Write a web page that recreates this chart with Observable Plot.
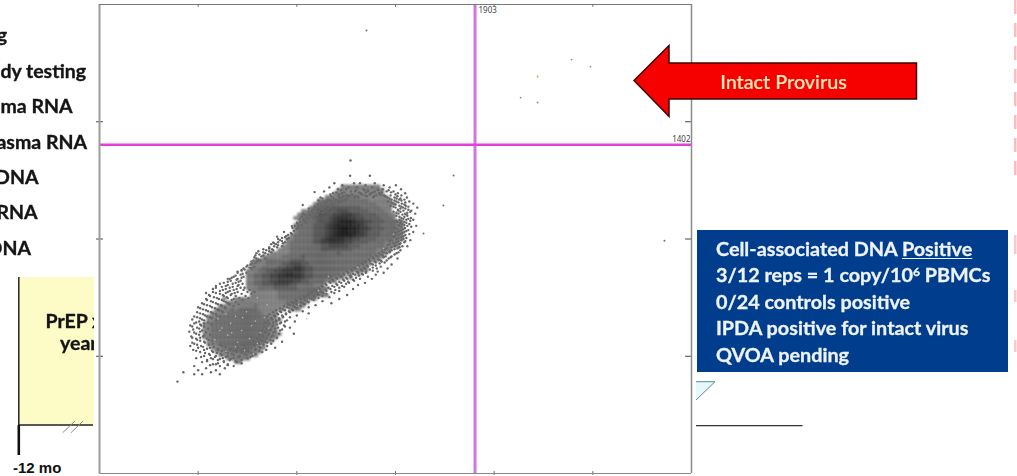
<!DOCTYPE html>
<html>
<head>
<meta charset="utf-8">
<script src="https://cdn.jsdelivr.net/npm/d3@7"></script>
<script src="https://cdn.jsdelivr.net/npm/@observablehq/plot@0.6"></script>
<style>
html,body{margin:0;padding:0;background:#fff;overflow:hidden}
#stage{position:relative;width:1017px;height:476px;overflow:hidden;background:#fff;font-family:Lato,"Open Sans",sans-serif}
#stage svg{display:block}
.abs{position:absolute}
.left{font-weight:700;font-size:19.5px;color:#141414;text-align:right;white-space:nowrap;left:-100px;line-height:22px;-webkit-text-stroke:.35px #141414;filter:blur(.35px)}
#yellow{left:19px;top:277px;width:75px;height:148px;background:#fdfbc6;overflow:hidden}
.prep{position:absolute;font-weight:700;font-size:19.5px;color:#141414;white-space:nowrap;line-height:22px;-webkit-text-stroke:.35px #141414;filter:blur(.35px)}
#blue{left:697px;top:229.5px;width:311px;height:142px;background:#003d8c;color:#eef3f8;font-weight:700;font-size:19.8px;box-sizing:border-box;padding:5px 0 0 19px;line-height:26.5px;white-space:nowrap;-webkit-text-stroke:.3px #eef3f8;filter:blur(.35px)}
#blue sup{font-size:12px;line-height:0;vertical-align:6px}
#blue u{text-underline-offset:2px}
#mo{left:13px;top:459px;font:700 15px "Liberation Sans",Arial,sans-serif;color:#111;white-space:nowrap}
#arrowText{left:633.5px;width:300px;top:69px;text-align:center;font-size:19.8px;font-weight:500;color:#ffe9b8;line-height:24px;white-space:nowrap;-webkit-text-stroke:.2px #ffe9b8;filter:blur(.35px)}
</style>
</head>
<body>
<div id="stage"></div>
<script>
// ---- Chart data (fluorescence amplitudes) ----
const xDomain = [0, 3000];
const yDomain = [0, 2000];
const xTicks = [500, 1000, 1500, 2000, 2500];
const yTicks = [500, 1000, 1500];
const xThreshold = 1903;
const yThreshold = 1402;

// Isolated droplets, upper-right (intact) quadrant
const intactX = [2220, 2134, 2220, 2392, 2488];
const intactY = [1693, 1603, 1582, 1765, 1735];
const intactFill = ["#c29a55", "#8f8a70", "#a08a60", "#9a8a60", "#a09070"];
// Isolated droplets, elsewhere
const strayX = [1353, 1794, 1743, 1642, 2863];
const strayY = [1889, 1271, 1143, 1023, 993];

// Droplet density: one string per row, top to bottom.
// '.' nothing solid, 2-9 increasingly dense.
const cloudLeft = 385;
const cloudTop = 1335;
const cloudColStep = 20;
const cloudRowStep = 15;
const cloudRows = [
"..........................................................",
"..........................................................",
"..........................................................",
"..........................................................",
"..........................................................",
"..........................................................",
"..........................................................",
"..........................................................",
"..........................................2222222222......",
".........................................222222222222.....",
"........................................2222222222222.....",
"......................................2223333332222222....",
"....................................2233333333333222222...",
"...................................233333333333333322222..",
"..................................233344444444433333222...",
"................................22334444455544444333322...",
"...............................2333344445566655444433322..",
"..............................22333444456777665544443332..",
"...............................233334445678887665544433322",
"..............................2333344456788887765444333322",
"..............................2333344456789988766544433322",
"..............................2333344456789988765444333322",
".............................23333344456788887665444333322",
"............................223333344567777665544443333222",
"............................23333334455666655444433332222.",
"...........................223333333344555554443333332222.",
"..........................22233333333444444443333332222...",
"........................222223333333333334333333333222....",
"......................2222233333433333333333333333222.....",
"....................22233333344443333333333333333222......",
"...................2222333344555443333333333333322........",
"...................222333344556654433333333333222.........",
"..................2223344556666654433333333322222.........",
"..................22334455667766544333333322212...........",
"..................2233445566666654433333222.2.............",
"..................22334455666655443333222.................",
"..................22334445555443333222....................",
"..................222333344444433333222...................",
"...................2222222333333333332...................",
"...................22222223333333333222...................",
"............2..222222222223333333322......................",
".............222222222222222333222.......................",
"...........2222222223222222222222.........................",
"..........222232333332222222.222..........................",
".........22223333333332222................................",
"........222333333333333222................................",
"........2233333333333333222...............................",
".......2233333333333333322................................",
".......2233333333333333322................................",
".......2233333333333333322................................",
".......22333333333333333222...............................",
".......2233333333333333222................................",
"........22333333333333322.................................",
"........222333333333322...................................",
".........22233333332222...................................",
"..........222233333222....................................",
"...........2222222222.....................................",
".............222222.......................................",
"...............22........................................."
];

// Loose droplets around the cloud: row amplitude, then column amplitudes in that row
const speckY = [1335,1270,1238,1229,1220,1212,1203,1195,1186,1177,1168,1160,1151,1142,1134,1125,1116,1108,1099,1090,1082,1073,1064,1056,1047,1038,1030,1021,1012,1004,995,986,978,969,960,952,943,934,926,917,908,900,891,882,874,865,856,848,839,830,822,813,804,796,787,778,770,761,752,744,735,726,718,709,700,692,683,674,666,657,648,640,631,622,614,605,596,588,579,570,562,553,544,536,527,518,510,501,492,484,475,466,458,449,440,432,423,392];
const speckX = [
[1272],[1270,1370],
[1190,1290,1320,1395],[1231,1348,1440,1502],[1165,1262,1305,1382,1470],[1208,1250,1338,1412,1435,1528],
[1138,1275,1295,1360,1395,1455,1490],[1183,1228,1325,1375,1418,1512,1549],[1250,1262,1345,1402,1442,1475,1530],
[1120,1215,1290,1310,1388,1460,1495,1558],[1160,1198,1242,1480,1518,1545],[1095,1135,1225,1462,1505,1570],
[1178,1210,1490,1532,1590],[1070,1125,1160,1475,1520,1552],[1105,1148,1500,1538,1610],[1042,1085,1130,1512,1565],
[1060,1112,1490,1525,1575],[985,1030,1092,1515,1548,1600],[1012,1070,1505,1560],[950,1048,1085,1530,1578],
[1000,1032,1520,1555,1590],[925,975,1018,1510,1545],[960,1005,1535,1570],[905,945,990,1520,1560,1605],
[935,978,1500,1548],[890,925,965,1530,1565],[860,912,950,1510,1545,1590],[880,935,975,1525,1570],
[845,905,945,1498,1540],[872,925,960,1515,1555],[825,890,915,1480,1530,1575],[850,905,940,1505,1545],
[800,870,895,1470,1520],[835,885,925,1495,1535,1560],[780,815,860,1455,1510],[755,845,880,1480,1525],
[790,830,870,1440,1470,1515],[735,810,855,1425,1495],[770,820,1410,1450,1480],[700,755,795,840,1390,1465,1510],
[725,780,815,1370,1425,1455],[690,745,790,1350,1400,1445],[670,715,765,1335,1385,1480],[640,705,745,785,1315,1360,1425],
[660,730,770,1295,1345,1405,1460],[615,680,720,1280,1330,1385],[640,700,745,1260,1310,1350,1440],[600,665,715,1240,1295,1335,1400],
[625,680,730,1225,1275,1360],[580,650,700,1205,1255,1320,1380],[610,665,715,1185,1240,1290],[560,630,690,1170,1225,1265,1345],
[595,650,705,1150,1205,1310],[540,620,675,1130,1190,1240],[575,640,695,1115,1170,1285],[610,660,1095,1150,1215],
[520,590,640,685,1075,1135,1190],[555,625,665,1060,1110,1255],[500,580,645,1040,1090,1165],[540,605,680,1020,1075,1215],
[480,565,630,1000,1055,1130],[520,590,650,985,1030,1175],[460,545,615,965,1015,1095],[500,570,635,950,990,1060],
[440,525,600,930,975],[475,550,620,915,960,1030],[510,575,900,945,1060],[455,535,595,885,925,1000],
[420,495,560,930,965],[470,520,875,910],[440,505,895,940,990],[480,530,860,915],
[415,460,515,880,935],[495,850,905,965],[435,475,870,925],[455,510,840,890],
[400,490,860,910,985],[445,530,825,880],[470,510,850,900],[430,495,555,815,865],
[450,530,790,840,925],[410,480,575,760,810,870],[460,515,620,735,785,850],[440,500,560,700,770,815,890],
[475,530,600,660,725,790,845],[510,575,640,695,755,825],[555,615,670,735,790],[530,590,650,710,775],
[490,565,625,680,750],[545,600,660,720],[415,520,630,695],[575,650,590],
[480,610,680],[540,635],[500,590],[425,565],[480,520,610],[395]
];
// Second pass over the ragged edge of the cloud
const edgeY = [1208,1199,1190,1182,1173,1164,1156,1147,1138,1130,1121,1112,1104,1095,1086,1078,1069,1060,1052,1043,1034,1026,1017,1008,1000,991,982,974,965,956,948,939,930,922,913,904,896,887,878,870,861,852,844,835,826,818,809,800,792,783,774,766,757,748,740,731,722,714,705,696,688,679,670,662,653,644,636,627,618,610,601,592,584,575,566,558,549,540,532,523,514,505,497,488,479,470,462];
const edgeX = [
[1225,1300,1342,1360,1410,1465],[1200,1240,1315,1350,1385,1430,1478],[1170,1212,1280,1330,1370,1425,1500],[1175,1235,1265,1300,1355,1390,1448,1510],
[1130,1185,1225,1255,1470,1505,1525],[1110,1170,1210,1235,1495,1530],[1150,1195,1215,1480,1515,1550],[1105,1145,1185,1500,1545],
[1090,1130,1170,1490,1530,1565],[1060,1120,1160,1525,1550],[1075,1100,1145,1515,1540,1580],[1030,1080,1130,1505,1560],
[1040,1065,1105,1535,1555],[990,1025,1075,1520,1545],[1015,1060,1095,1540,1565],[985,1040,1505,1530,1575],
[945,1000,1045,1525,1555],[980,1025,1515,1545],[920,965,1005,1530,1580],[900,955,1000,1510,1540],
[940,985,1520,1555],[895,930,970,1500,1535],[865,920,955,1515,1550],[890,940,1490,1530],
[855,905,950,1505,1540],[870,925,1470,1515,1550],[820,885,930,1490,1525],[850,905,1460,1500],
[790,860,900,1480,1520],[830,875,1445,1495],[770,805,860,1430,1470],[750,795,840,1415,1455,1505],
[720,790,830,1400,1435],[745,785,1385,1440,1475],[705,765,805,1365,1415],[730,770,1345,1395,1430],
[680,735,775,1330,1375,1420],[700,750,1310,1355,1400],[650,720,760,1290,1340,1385],[685,735,1275,1325,1370],
[625,700,1255,1305,1350,1410],[660,725,1235,1285,1330],[635,690,1220,1270,1315],[600,670,720,1200,1250,1300],
[630,695,1180,1235,1285],[585,650,705,1165,1215,1260],[610,675,725,1145,1200,1250],[560,640,700,1125,1180,1230],
[590,660,715,735,1110,1160,1215],[545,625,680,730,760,1090,1145,1195],[575,650,700,750,785,1070,1125,1175],[530,610,670,720,770,1055,1105,1150],
[560,630,690,740,1035,1085,1130],[515,595,650,710,755,1015,1065,1110],[545,620,670,725,995,1040,1085],[500,575,640,690,975,1020,1060],
[530,600,660,705,955,1000,1040],[485,560,620,680,935,980,1020],[510,585,640,915,960,1000],[470,540,605,895,940,980],
[495,565,625,880,920,965],[525,590,860,905,945],[480,545,610,850,890,930],[510,570,870,910],
[450,530,590,855,895,950],[490,550,840,880,920],[435,510,565,860,900],[470,530,835,875,940],
[505,550,850,890],[445,520,825,865,915],[480,540,840,880],[425,505,560,810,855],
[465,525,830,870],[490,545,800,845],[510,570,780,825,880],[470,535,755,805,850],
[495,555,610,730,780,830],[525,580,640,700,755,810],[545,600,665,735,790],[490,570,620,690,750,810],
[535,595,650,720,770],[560,620,680,745],[515,585,640,705,765],[575,610,665],
[545,630,690],[600,720],[560,650]
];
// Left-hand limit of the scatter (amplitude pairs)
const limitY = [1300,1164,1121,1079,1036,993,951,908,866,823,780,738,695,653,611,568,400];
const limitX = [1050,1110,1044,998,968,892,806,765,704,639,547,512,486,461,451,461,380];
// A few droplets that lie outside that limit
const outlierX = [1030,975,900,860,800,720,660,590,540,880,935,1090];
const outlierY = [1145,1055,1010,960,905,868,830,800,770,985,1030,1200];
// Pale gaps among the droplets
const gapX = [600,640,690,745,790,835,620,665,720,770,815,855,585,650,700,760,800,640,690,735,780,820,610,670,725,900,960,1010,1060,1110,1160,1250,1310,1380,1440,1490,800,850,1050,1000];
const gapY = [660,680,670,690,650,665,620,640,610,630,600,620,570,590,560,575,555,520,540,525,510,545,610,600,665,660,700,720,740,780,840,850,880,900,960,1020,750,720,660,690];

// Slide text around the chart
const leftLabels = ["g", "dy testing", "ma RNA", "asma RNA", "DNA", "RNA", "DNA"];
const prepLabels = ["PrEP x", "year"];
const timeLabel = "-12 mo";
const arrowLabel = "Intact Provirus";
const boxHtml = [
  'Cell-associated DNA <u>Positive</u>',
  '3/12 reps = 1 copy/10<sup>6</sup> PBMCs',
  '0/24 controls positive',
  'IPDA positive for intact virus',
  'QVOA pending'
];

// ---- Build tables ----
const cells = [];
cloudRows.forEach((row, r) => {
  [...row].forEach((ch, c) => {
    if (ch !== ".") cells.push({
      x: cloudLeft + c * cloudColStep,
      y: cloudTop - r * cloudRowStep,
      level: +ch
    });
  });
});
const limitAt = d3.scaleLinear().domain(limitY).range(limitX);
const specks = speckY.flatMap((y, i) => speckX[i].map(x => ({x, y})))
  .concat(edgeY.flatMap((y, i) => edgeX[i].map(x => ({x, y}))))
  .filter(d => d.y > 1240 || d.x >= limitAt(d.y))
  .concat(outlierX.map((x,i)=>({x,y:outlierY[i]})));
const gaps = gapX.map((x,i)=>({x,y:gapY[i]}));
const grays = {2:"#767676",3:"#626262",4:"#4f4f4f",5:"#3c3c3c",6:"#2c2c2c",7:"#1e1e1e",8:"#121212",9:"#080808"};
const intact = intactX.map((x,i)=>({x,y:intactY[i],f:intactFill[i]}));
const stray = strayX.map((x,i)=>({x,y:strayY[i]}));

// ---- Stage ----
const stage = document.getElementById("stage");
function add(tag, cls, id){const e=document.createElement(tag); if(cls)e.className=cls; if(id)e.id=id; stage.appendChild(e); return e;}

const leftEnds = [7, 86, 72.5, 87, 38.5, 37.5, 31];
const leftBase = [41, 77, 112, 147.5, 183, 218, 254];
leftLabels.forEach((t,i)=>{
  const e=add("div","abs left");
  e.textContent=t;
  e.style.width=(leftEnds[i]+100)+"px";
  e.style.top=(leftBase[i]-17)+"px";
});
const yb=add("div","abs","yellow");
[[26.5,33],[41,55]].forEach((p,i)=>{
  const e=document.createElement("div"); e.className="prep"; e.textContent=prepLabels[i];
  e.style.left=p[0]+"px"; e.style.top=p[1]+"px"; yb.appendChild(e);
});

const ox = Plot.plot({
  width:1017, height:476,
  marginLeft:99, marginRight:326, marginTop:4, marginBottom:3,
  x:{domain:xDomain, axis:null},
  y:{domain:yDomain, axis:null},
  style:{background:"transparent"},
  marks:[
    Plot.frame({fill:"#fff", stroke:"none"}),
    Plot.rect(cells,{
      x1:d=>d.x, x2:d=>d.x+cloudColStep, y1:d=>d.y, y2:d=>d.y+cloudRowStep,
      fill:d=>grays[d.level], imageFilter:"blur(1.3px)"
    }),
    Plot.dot(specks,{x:"x",y:"y",r:1.2,fill:"#666666",imageFilter:"blur(.3px)"}),
    Plot.dot(gaps,{x:"x",y:"y",r:.8,fill:"#b4b4b4",imageFilter:"blur(.3px)"}),
    Plot.dot(stray,{x:"x",y:"y",r:1,fill:"#707070"}),
    Plot.dot(intact,{x:"x",y:"y",r:.9,fill:"f"}),
    Plot.ruleX([xThreshold],{stroke:"#cf78dd",strokeWidth:3}),
    Plot.ruleY([yThreshold],{stroke:"#e43fdc",strokeWidth:2.5}),
    Plot.text(["1903"],{x:xThreshold,y:yDomain[1],text:d=>d,dx:3.5,dy:6,textAnchor:"start",fontSize:8,fill:"#444"}),
    Plot.text(["1402"],{x:xDomain[1],y:yThreshold,text:d=>d,dx:-1,dy:-5,textAnchor:"end",fontSize:8,fill:"#444"}),
    Plot.ruleX(xTicks,{y1:yDomain[1],y2:yDomain[1]-12,stroke:"#666"}),
    Plot.ruleX(xTicks,{y1:yDomain[0]-8,y2:yDomain[0]+8,stroke:"#666"}),
    Plot.ruleY(yTicks,{x1:-15,x2:20,stroke:"#444"}),
    Plot.ruleY(yTicks,{x1:xDomain[1]-30,x2:xDomain[1],stroke:"#444"}),
    Plot.ruleX([xDomain[0]],{stroke:"#9c9c9c",strokeWidth:2}),
    Plot.ruleX([xDomain[1]],{stroke:"#8a8a8a",strokeWidth:1.5}),
    Plot.ruleY([yDomain[1]],{stroke:"#777",strokeWidth:1.2}),
    Plot.ruleY([yDomain[0]],{stroke:"#8a8a8a",strokeWidth:1.2})
  ]
});
ox.id="plot"; ox.style.position="absolute"; ox.style.left="0"; ox.style.top="0";
stage.appendChild(ox);

const ns="http://www.w3.org/2000/svg";
const deco=document.createElementNS(ns,"svg");
deco.setAttribute("width",1017);deco.setAttribute("height",476);
deco.style.cssText="position:absolute;left:0;top:0;pointer-events:none";
deco.innerHTML=`
<polygon points="634,80.5 669,45.5 669,63 916.5,63 916.5,99 669,99 669,116.5" fill="#f60000" stroke="#3a0505" stroke-width="1.5"/>
<line x1="18.8" y1="277" x2="18.8" y2="425" stroke="#222" stroke-width="1.5"/>
<line x1="18.8" y1="425" x2="18.8" y2="455" stroke="#111" stroke-width="2.6"/>
<line x1="19" y1="425" x2="93" y2="425" stroke="#222" stroke-width="1.3"/>
<line x1="62.7" y1="432.7" x2="75" y2="421" stroke="#888" stroke-width="1"/>
<line x1="71" y1="432.7" x2="83" y2="421" stroke="#888" stroke-width="1"/>
<line x1="696" y1="425.6" x2="802.5" y2="425.6" stroke="#333" stroke-width="1.2"/>
<polygon points="696,381.7 715,381.7 696,400" fill="#e6f8fb"/>
<polyline points="696,381.7 715,381.7 696,400" fill="none" stroke="#5a8a96" stroke-width="1"/>
<line x1="1015.3" y1="0" x2="1015.3" y2="180" stroke="#ffb9b9" stroke-width="2.4" stroke-dasharray="14 9"/>
<line x1="1015.3" y1="235" x2="1015.3" y2="254" stroke="#ffc4c4" stroke-width="2.4"/>
<line x1="1015.3" y1="290" x2="1015.3" y2="302" stroke="#ffc4c4" stroke-width="2.4"/>
<line x1="1015.3" y1="340" x2="1015.3" y2="352" stroke="#ffc4c4" stroke-width="2.4"/>
`;
stage.appendChild(deco);

const at=add("div","abs","arrowText"); at.textContent=arrowLabel;
const bb=add("div","abs","blue"); bb.innerHTML=boxHtml.join("<br>");
const mo=add("div","abs","mo"); mo.textContent=timeLabel;
</script>
</body>
</html>
